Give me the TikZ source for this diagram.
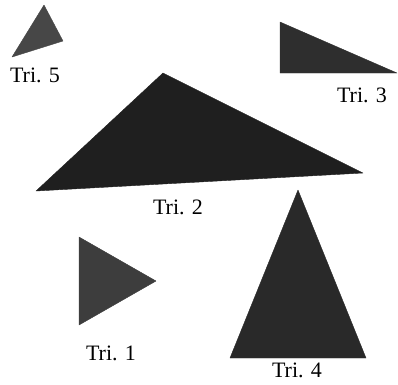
\documentclass[tikz,border=0pt]{standalone}
\usepackage{fontspec}
\setmainfont{Liberation Serif}
\usepackage{xcolor}
\usetikzlibrary{positioning}

\tikzset{
  tri/.style={fill=black!#1, draw=black!#1, line join=round},
  lbl/.style={anchor=base, inner sep=0pt, font=\fontsize{22}{24}\selectfont}
}

\begin{document}
\begin{tikzpicture}[x=1pt,y=-1pt]
  \useasboundingbox (0,0) rectangle (398,384);

  % the five triangles: three corners and a shade
  \def\tris{44/5/63/41/12/57/72,
            280/22/280/73/397/73/82,
            163/73/36/191/363/173/88,
            79/237/79/325/156/281/76,
            298/190/230/358/366/358/84}

  \foreach \ax/\ay/\bx/\by/\cx/\cy/\g in \tris {
    \filldraw[tri=\g] (\ax,\ay) -- (\bx,\by) -- (\cx,\cy) -- cycle;
  }

  \node[lbl] (t5) at (35,82)  {Tri. 5};
  \node[lbl] (t3) at (362,102) {Tri. 3};
  \node[lbl] (t2) at (178,214) {Tri. 2};
  \node[lbl] (t1) at (111,360) {Tri. 1};
  \node[lbl] (t4) at (297,377) {Tri. 4};

\end{tikzpicture}
\end{document}
